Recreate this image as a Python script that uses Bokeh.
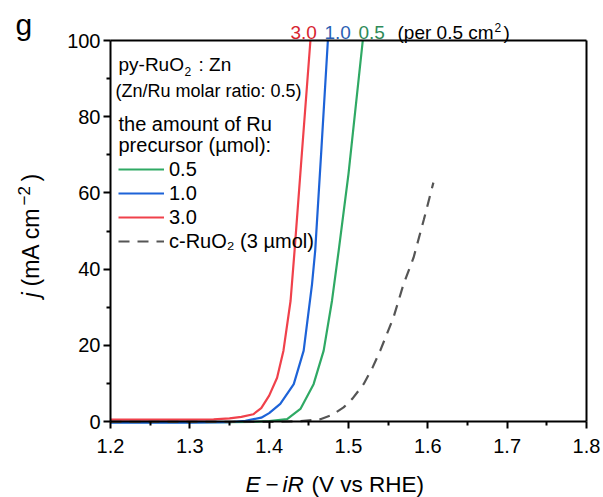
import math
from bokeh.plotting import figure
from bokeh.models import Range1d, FixedTicker, Label, Legend, LegendItem, LinearAxis
from bokeh.embed import file_html
from bokeh.resources import INLINE

# ---------------- data ----------------
x_30 = [1.20, 1.25, 1.30, 1.33, 1.35, 1.365, 1.38, 1.39, 1.40, 1.41, 1.418, 1.427, 1.432, 1.44, 1.452]
j_30 = [0.5, 0.5, 0.5, 0.55, 0.8, 1.2, 1.9, 3.5, 6.8, 11.5, 18.6, 31.7, 44.8, 67.0, 100.0]

x_10 = [1.20, 1.30, 1.35, 1.37, 1.39, 1.40, 1.414, 1.431, 1.4435, 1.454, 1.458, 1.466, 1.474]
j_10 = [-0.3, -0.3, -0.2, 0.2, 1.0, 2.2, 4.6, 9.8, 18.6, 36.0, 44.8, 72.0, 100.0]

x_05 = [1.20, 1.35, 1.38, 1.40, 1.4226, 1.4394, 1.456, 1.4687, 1.4792, 1.4876, 1.50, 1.518]
j_05 = [-0.2, -0.2, -0.1, 0.1, 0.6, 3.3, 9.8, 18.6, 31.7, 44.8, 65.0, 100.0]

x_c = [1.20, 1.40, 1.44, 1.4646, 1.48, 1.4938, 1.505, 1.519, 1.53, 1.54, 1.5567, 1.5693, 1.582, 1.595, 1.607]
j_c = [-0.1, -0.1, 0.1, 0.6, 1.8, 3.7, 6.0, 9.8, 14.0, 18.6, 27.3, 36.0, 43.0, 53.0, 62.7]

x_ticks = [1.2, 1.3, 1.4, 1.5, 1.6, 1.7, 1.8]
x_minor = [1.25, 1.35, 1.45, 1.55, 1.65, 1.75]
y_ticks = [0, 20, 40, 60, 80, 100]
y_minor = [10, 30, 50, 70, 90]

legend_labels = ["0.5", "1.0", "3.0", "c-RuO\u2082 (3 \u00b5mol)"]

# ---------------- style ----------------
FONT = "Liberation Sans"
GREEN = "#2fa964"
BLUE = "#1d63d8"
RED = "#f0414b"
GRAY = "#555555"

W, H = 603, 497
# axes box in canvas pixels: x 1.2 -> 110, 1.8 -> 586 ; y 0 -> 421, 100 -> 40
SX = (586 - 110) / 0.6
SY = (421 - 40) / 100.0
X0 = 1.2 - 110 / SX
X1 = X0 + W / SX
Y1 = 100 + 40 / SY
Y0 = Y1 - H / SY

p = figure(width=W, height=H, output_backend="svg", toolbar_location=None,
           x_range=Range1d(X0, X1), y_range=Range1d(Y0, Y1),
           min_border=0, min_border_left=0, min_border_right=0,
           min_border_top=0, min_border_bottom=0)
p.grid.visible = False
p.background_fill_color = "white"
p.border_fill_color = "white"
p.outline_line_color = None


def style_axis(ax):
    ax.axis_line_width = 2
    ax.axis_line_color = "black"
    ax.major_tick_line_width = 2
    ax.minor_tick_line_width = 2
    ax.major_tick_out = 7
    ax.major_tick_in = 0
    ax.minor_tick_out = 4
    ax.minor_tick_in = 0
    ax.major_label_text_font = FONT
    ax.major_label_text_font_size = "20px"
    ax.major_label_text_color = "black"
    ax.major_tick_line_color = "black"
    ax.minor_tick_line_color = "black"


xa = p.xaxis[0]
ya = p.yaxis[0]
style_axis(xa)
style_axis(ya)
xa.ticker = FixedTicker(ticks=x_ticks, minor_ticks=x_minor)
ya.ticker = FixedTicker(ticks=y_ticks, minor_ticks=y_minor)
xa.fixed_location = 0
ya.fixed_location = 1.2
xa.bounds = (1.2, 1.8)
ya.bounds = (0, 100)
xa.major_label_standoff = 10
ya.major_label_standoff = 3

top = LinearAxis(fixed_location=100, bounds=(1.2, 1.8),
                 ticker=FixedTicker(ticks=[], minor_ticks=[]))
right = LinearAxis(fixed_location=1.8, bounds=(0, 100),
                   ticker=FixedTicker(ticks=[], minor_ticks=[]))
for ax in (top, right):
    style_axis(ax)
    ax.major_tick_line_color = None
    ax.minor_tick_line_color = None
    ax.major_label_text_alpha = 0
p.add_layout(top, "above")
p.add_layout(right, "right")

r05 = p.line(x_05, j_05, line_color=GREEN, line_width=2.2)
r10 = p.line(x_10, j_10, line_color=BLUE, line_width=2.2)
r30 = p.line(x_30, j_30, line_color=RED, line_width=2.2)
rc = p.line(x_c, j_c, line_color=GRAY, line_width=2.2, line_dash="11 8")

legend = Legend(items=[LegendItem(label=legend_labels[0], renderers=[r05]),
                       LegendItem(label=legend_labels[1], renderers=[r10]),
                       LegendItem(label=legend_labels[2], renderers=[r30]),
                       LegendItem(label=legend_labels[3], renderers=[rc])],
                location=(118, H - 253), padding=0, margin=0, spacing=0,
                glyph_width=46, glyph_height=24, label_height=24,
                label_standoff=5, label_text_font=FONT,
                label_text_font_size="20px", label_text_color="black",
                border_line_alpha=0, background_fill_alpha=0)
p.add_layout(legend)


def lab(cx, base, text, size, color="black", style="normal"):
    """Horizontal label: cx = left edge, base = text baseline (canvas px)."""
    mid = base - 0.3465 * size
    p.add_layout(Label(x=cx, y=H - mid, x_units="screen", y_units="screen",
                       text=text, text_font=FONT, text_font_size=f"{size}px",
                       text_color=color, text_font_style=style,
                       text_align="left", text_baseline="middle"))


def vlab(mid_x, start_y, text, size, style="normal"):
    """Vertical label reading upwards, starting at start_y, centred on mid_x."""
    p.add_layout(Label(x=mid_x, y=H - start_y, x_units="screen", y_units="screen",
                       text=text, text_font=FONT, text_font_size=f"{size}px",
                       text_color="black", text_font_style=style,
                       angle=math.pi / 2, text_align="left", text_baseline="middle"))


# panel letter
lab(15, 34, "g", 30)

# labels above the frame
lab(290, 39, "3.0", 19, "#d7242f")
lab(324, 39, "1.0", 19, "#2a5fb3")
lab(358, 39, "0.5", 19, "#2e8a58")
lab(397, 39, "(per 0.5 cm", 19)
lab(494, 31.5, "2", 12)
lab(503, 39, ")", 19)

# legend header
lab(118, 71, "py-RuO", 19)
lab(184, 75, "2", 12)
lab(198, 71, ": Zn", 19)
lab(115, 97, "(Zn/Ru molar ratio: 0.5)", 18)
lab(118, 130, "the amount of Ru", 20)
lab(118, 151, "precursor (\u00b5mol):", 20)

# x axis title
lab(245, 492, "E", 22.5, style="italic")
lab(265, 492, "\u2212", 22.5)
lab(282, 492, "iR", 22.5, style="italic")
lab(311, 492, "(V vs RHE)", 22.5)

# y axis title (rotated)
vlab(30, 297, "j", 23, style="italic")
vlab(30, 286, "(mA cm", 23)
vlab(23, 205, "\u22122", 17)
vlab(30, 181, ")", 23)

open("out.html", "w").write(file_html(p, INLINE))
